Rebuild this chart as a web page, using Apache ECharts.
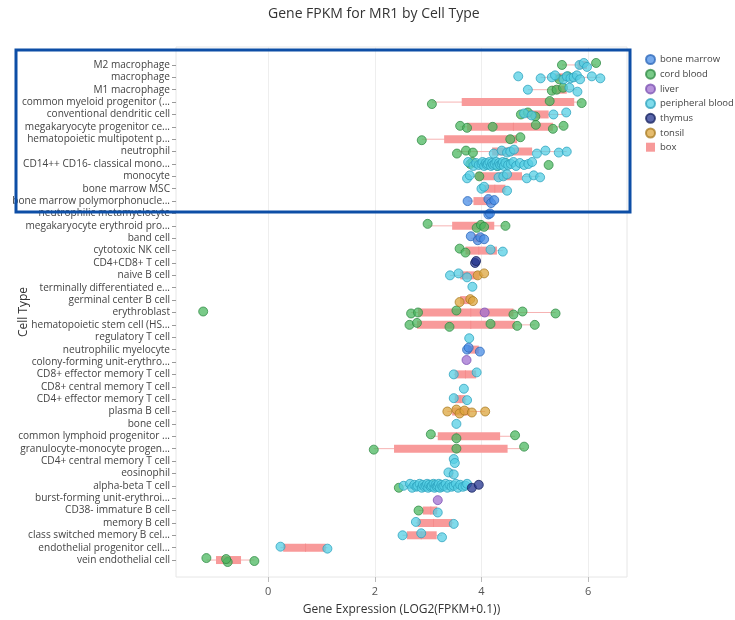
<!DOCTYPE html>
<html><head><meta charset="utf-8">
<script src="https://cdn.jsdelivr.net/npm/echarts@6/dist/echarts.min.js"></script>
<style>html,body{margin:0;padding:0;background:#fff}#c{width:735px;height:620px}</style>
</head><body><div id="c"></div>
<script>
const categories = [
  'M2 macrophage','macrophage','M1 macrophage','common myeloid progenitor (...',
  'conventional dendritic cell','megakaryocyte progenitor ce...','hematopoietic multipotent p...',
  'neutrophil','CD14++ CD16- classical mono...','monocyte','bone marrow MSC',
  'bone marrow polymorphonucle...','neutrophilic metamyelocyte','megakaryocyte erythroid pro...',
  'band cell','cytotoxic NK cell','CD4+CD8+ T cell','naive B cell','terminally differentiated e...',
  'germinal center B cell','erythroblast','hematopoietic stem cell (HS...','regulatory T cell',
  'neutrophilic myelocyte','colony-forming unit-erythro...','CD8+ effector memory T cell',
  'CD8+ central memory T cell','CD4+ effector memory T cell','plasma B cell','bone cell',
  'common lymphoid progenitor ...','granulocyte-monocyte progen...','CD4+ central memory T cell',
  'eosinophil','alpha-beta T cell','burst-forming unit-erythroi...','CD38- immature B cell',
  'memory B cell','class switched memory B cel...','endothelial progenitor cell...','vein endothelial cell'
];
const xTicks = [0, 2, 4, 6];

// [row, min, q1, median, q3, max]
const boxStats = [
  [0, 5.51, 5.80, 5.92, 5.98, 6.15],
  [1, 5.11, 5.38, 5.60, 5.80, 6.23],
  [2, 4.87, 5.32, 5.45, 5.60, 5.80],
  [3, 3.07, 3.63, 5.28, 5.74, 5.88],
  [4, 4.74, 4.85, 4.95, 5.26, 5.59],
  [5, 3.60, 3.73, 4.60, 5.34, 5.54],
  [6, 2.88, 3.30, 4.54, 4.67, 4.73],
  [7, 3.54, 4.20, 4.50, 4.95, 5.60],
  [8, 3.75, 4.00, 4.25, 4.55, 4.95],
  [9, 3.73, 3.90, 4.35, 4.76, 5.10],
  [10, 4.00, 4.05, 4.25, 4.45, 4.48],
  [11, 3.74, 3.85, 4.15, 4.20, 4.24],
  [13, 2.99, 3.45, 3.99, 4.24, 4.45],
  [14, 3.80, 3.86, 3.95, 4.02, 4.05],
  [15, 3.59, 3.70, 3.95, 4.29, 4.40],
  [17, 3.41, 3.60, 3.73, 3.96, 4.05],
  [19, 3.59, 3.60, 3.79, 3.80, 3.84],
  [20, 2.68, 2.81, 3.80, 4.60, 5.39],
  [21, 2.65, 2.79, 3.80, 4.63, 5.00],
  [23, 3.73, 3.75, 3.76, 3.95, 3.97],
  [25, 3.48, 3.50, 3.70, 3.90, 3.91],
  [27, 3.48, 3.50, 3.60, 3.70, 3.73],
  [28, 3.36, 3.45, 3.62, 3.78, 4.07],
  [30, 3.05, 3.18, 3.53, 4.35, 4.63],
  [31, 1.98, 2.36, 3.53, 4.49, 4.80],
  [33, 3.38, 3.40, 3.43, 3.47, 3.48],
  [34, 2.54, 2.90, 3.12, 3.36, 3.73],
  [36, 2.82, 2.90, 3.05, 3.17, 3.18],
  [37, 2.77, 2.80, 3.10, 3.45, 3.48],
  [38, 2.52, 2.60, 2.87, 3.16, 3.26],
  [39, 0.23, 0.28, 0.70, 1.08, 1.11],
  [40, -1.16, -0.98, -0.77, -0.51, -0.26]
];

// [row, value]
const boneMarrow = [
  [11,3.74],[11,4.13],[11,4.18],[11,4.24],[12,4.13],[12,4.16],
  [14,3.80],[14,3.93],[14,3.98],[14,4.05],[23,3.73],[23,3.76],[23,3.97]
];
const cordBlood = [
  [0,5.51],[0,6.15],[1,5.46],[1,5.62],[2,5.32],[2,5.41],[2,5.53],
  [3,3.07],[3,5.28],[3,5.88],[4,4.74],[4,4.87],[4,5.01],
  [5,3.60],[5,3.73],[5,4.21],[5,5.02],[5,5.34],[5,5.54],
  [6,2.88],[6,4.54],[6,4.73],[7,3.54],[7,3.71],[7,3.84],
  [8,3.79],[8,3.83],[8,4.30],[8,4.45],[8,5.26],[9,3.96],
  [13,2.99],[13,3.91],[13,3.99],[13,4.05],[13,4.45],[15,3.59],[15,3.70],
  [20,-1.22],[20,2.68],[20,2.81],[20,3.53],[20,4.60],[20,4.77],[20,5.39],
  [21,2.65],[21,2.79],[21,3.40],[21,4.17],[21,4.67],[21,5.00],
  [30,3.05],[30,3.53],[30,4.63],[31,1.98],[31,3.53],[31,4.80],
  [34,2.45],[34,3.05],[34,3.20],[36,2.82],
  [40,-1.16],[40,-0.76],[40,-0.79],[40,-0.26]
];
const liver = [[20,4.06],[24,3.72],[35,3.18]];
const peripheralBlood = [
  [0,5.84],[0,5.92],[0,5.98],
  [1,4.69],[1,5.11],[1,5.32],[1,5.38],[1,5.54],[1,5.60],[1,5.67],[1,5.73],[1,5.79],[1,5.85],[1,6.07],[1,6.23],
  [2,4.87],[2,5.65],[2,5.80],[4,4.80],[4,4.94],[4,5.35],[4,5.59],
  [7,4.23],[7,4.38],[7,4.48],[7,4.54],[7,4.61],[7,5.04],[7,5.20],[7,5.45],[7,5.60],
  [8,3.75],[8,3.85],[8,3.90],[8,3.95],[8,4.00],[8,4.02],[8,4.05],[8,4.08],[8,4.10],[8,4.12],
  [8,4.15],[8,4.18],[8,4.20],[8,4.22],[8,4.25],[8,4.28],[8,4.30],[8,4.33],[8,4.35],[8,4.38],
  [8,4.40],[8,4.42],[8,4.45],[8,4.50],[8,4.55],[8,4.60],[8,4.65],[8,4.72],[8,4.80],[8,4.88],[8,4.95],
  [9,3.73],[9,3.78],[9,4.32],[9,4.41],[9,4.48],[9,4.85],[9,4.98],[9,5.10],
  [10,4.00],[10,4.05],[10,4.48],[15,4.17],[15,4.40],
  [17,3.41],[17,3.57],[17,3.73],[18,3.83],[22,3.77],
  [25,3.48],[25,3.91],[26,3.67],[27,3.48],[27,3.73],[29,3.53],
  [32,3.48],[32,3.50],[33,3.38],[33,3.48],
  [34,2.54],[34,2.66],[34,2.70],[34,2.74],[34,2.78],[34,2.80],[34,2.84],[34,2.88],[34,2.90],[34,2.93],
  [34,2.96],[34,2.98],[34,3.00],[34,3.02],[34,3.05],[34,3.07],[34,3.10],[34,3.12],[34,3.14],[34,3.16],
  [34,3.18],[34,3.20],[34,3.22],[34,3.25],[34,3.27],[34,3.30],[34,3.33],[34,3.36],[34,3.40],[34,3.44],
  [34,3.48],[34,3.52],[34,3.56],[34,3.60],[34,3.65],[34,3.70],[34,3.73],
  [36,3.18],[37,2.77],[37,3.48],[38,2.52],[38,2.87],[38,3.26],[39,0.23],[39,1.11]
];
const thymus = [[16,3.88],[16,3.90],[34,3.82],[34,3.95]];
const tonsil = [
  [17,3.93],[17,4.05],[19,3.59],[19,3.79],[19,3.84],
  [28,3.36],[28,3.53],[28,3.59],[28,3.68],[28,3.82],[28,4.07]
];

const FONT = '"Open Sans", "DejaVu Sans", sans-serif';
const jitter = [0, -0.16, 0.16, -0.08, 0.08];

function scatterSeries(name, arr, color, border) {
  return {
    name: name, type: 'scatter', symbol: 'circle', symbolSize: 9, z: 3,
    itemStyle: { color: color, opacity: 0.75, borderColor: border, borderWidth: 1 },
    data: arr.map((d, i) => [d[1], d[0] + jitter[i % jitter.length]])
  };
}

const chart = echarts.init(document.getElementById('c'));
chart.setOption({
  animation: false,
  backgroundColor: '#fff',
  textStyle: { fontFamily: FONT },
  title: {
    text: 'Gene FPKM for MR1 by Cell Type', left: 263, top: 2,
    textStyle: { fontSize: 14, fontWeight: 'normal', color: '#333', fontFamily: FONT }
  },
  legend: {
    orient: 'vertical', left: 640, top: 49, itemWidth: 9, itemHeight: 9, itemGap: 3.7,
    textStyle: { fontSize: 9.5, color: '#444', fontFamily: FONT },
    data: [
      { name: 'bone marrow', icon: 'circle' }, { name: 'cord blood', icon: 'circle' },
      { name: 'liver', icon: 'circle' }, { name: 'peripheral blood', icon: 'circle' },
      { name: 'thymus', icon: 'circle' }, { name: 'tonsil', icon: 'circle' },
      { name: 'box', icon: 'rect' }
    ]
  },
  grid: { left: 176, right: 108, top: 47, bottom: 43, show: true, borderColor: '#e6e6e6', borderWidth: 1,
          outerBoundsMode: 'none', containLabel: false },
  xAxis: {
    type: 'value', min: -1.73, max: 6.73,
    name: 'Gene Expression (LOG2(FPKM+0.1))', nameLocation: 'middle', nameGap: 27, nameMoveOverlap: false,
    nameTextStyle: { fontSize: 12, color: '#333', fontFamily: FONT },
    axisLine: { show: false, onZero: false },
    axisTick: { show: true, length: 5, lineStyle: { color: '#bbb' }, customValues: xTicks },
    axisLabel: { fontSize: 11, color: '#555', margin: 9, customValues: xTicks, fontFamily: FONT },
    splitLine: { show: true, lineStyle: { color: '#eeeeee' } }
  },
  yAxis: {
    type: 'value', inverse: true, min: -1.45, max: 41.37,
    name: 'Cell Type', nameLocation: 'middle', nameGap: 146, nameRotate: 90, nameMoveOverlap: false,
    nameTextStyle: { fontSize: 12, color: '#333', fontFamily: FONT },
    axisLine: { show: false, onZero: false },
    axisTick: { show: true, length: 4, lineStyle: { color: '#999' }, customValues: categories.map((c, i) => i) },
    axisLabel: {
      fontSize: 10.1, color: '#444', margin: 6, fontFamily: FONT,
      customValues: categories.map((c, i) => i),
      formatter: v => categories[Math.round(v)]
    },
    splitLine: { show: false }
  },
  series: [
    {
      name: 'box', type: 'custom', z: 1,
      itemStyle: { color: '#f79a9a' },
      encode: { x: [1, 2, 3, 4, 5], y: 0 },
      data: boxStats,
      renderItem: function (params, api) {
        const y = api.value(0);
        const pMin = api.coord([api.value(1), y]);
        const pQ1 = api.coord([api.value(2), y]);
        const pMed = api.coord([api.value(3), y]);
        const pQ3 = api.coord([api.value(4), y]);
        const pMax = api.coord([api.value(5), y]);
        const h = 8;
        return {
          type: 'group', children: [
            { type: 'line', shape: { x1: pMin[0], y1: pMin[1], x2: pMax[0], y2: pMax[1] },
              style: { stroke: '#f6b3b3', lineWidth: 1 } },
            { type: 'rect', shape: { x: pQ1[0], y: pQ1[1] - h / 2, width: Math.max(1, pQ3[0] - pQ1[0]), height: h },
              style: { fill: '#f89a9a' } },
            { type: 'line', shape: { x1: pMed[0], y1: pMed[1] - h / 2, x2: pMed[0], y2: pMed[1] + h / 2 },
              style: { stroke: '#f58c8c', lineWidth: 1 } }
          ]
        };
      }
    },
    scatterSeries('bone marrow', boneMarrow, '#4a8ee6', '#2a66b8'),
    scatterSeries('cord blood', cordBlood, '#4cb860', '#2f8a44'),
    scatterSeries('liver', liver, '#a070d0', '#7a4fb0'),
    scatterSeries('peripheral blood', peripheralBlood, '#55cfe4', '#2ba0bc'),
    scatterSeries('thymus', thymus, '#24348f', '#14205e'),
    scatterSeries('tonsil', tonsil, '#dca63e', '#a77a20')
  ],
  graphic: [{
    type: 'rect', z: 100, silent: true,
    shape: { x: 16, y: 50, width: 614, height: 162 },
    style: { fill: 'none', stroke: '#0d4ea6', lineWidth: 3 }
  }]
});
</script>
</body></html>
